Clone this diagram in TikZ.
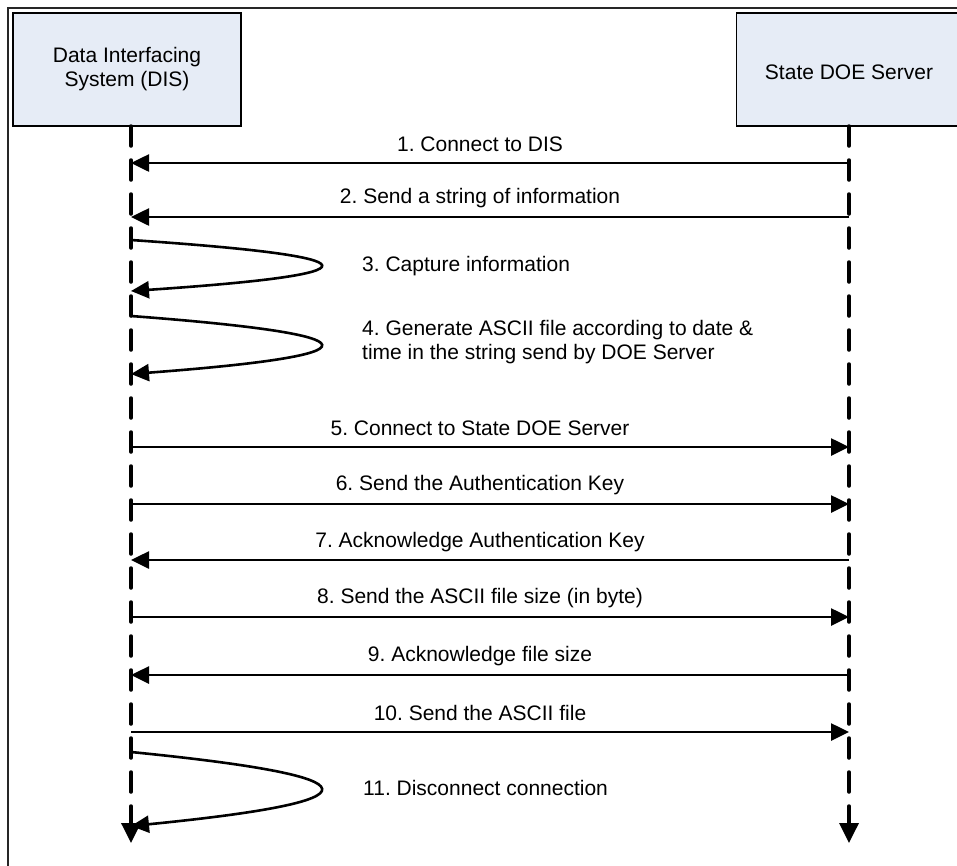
\documentclass[tikz,border=0pt]{standalone}
\usepackage{fontspec}
\setmainfont{Liberation Sans}
\usetikzlibrary{arrows.meta}
\definecolor{boxfill}{RGB}{230,236,246}
\tikzset{
  actor/.style={draw=black, line width=1.3pt, fill=boxfill, inner sep=0pt, align=center, font=\fontsize{21}{24}\selectfont},
  lifeline/.style={line width=3.5pt, dash pattern=on 20pt off 14pt, line cap=round, -{Triangle[length=20pt,width=19pt]}},
  msg/.style={line width=2.6pt, -{Triangle[length=18pt,width=17pt]}},
  selfmsg/.style={line width=2.6pt, -{Triangle[length=18pt,width=17pt]}},
  lbl/.style={font=\fontsize{21}{24}\selectfont, inner sep=0pt, align=left}
}
\begin{document}
\frenchspacing
\begin{tikzpicture}[x=1pt,y=-1pt]
\clip (0,0) rectangle (957,865);
\fill[white] (0,0) rectangle (957,865);
% outer frame
\draw[line width=2pt, black!85] (8,8) rectangle (980,885);
% actors
\node[actor, minimum width=228pt, minimum height=113pt] (dis) at (127,69.5) {Data Interfacing\\System (DIS)};
\node[actor, minimum width=230pt, minimum height=113pt, anchor=west] (doe) at (736,69.5) {};
\node[font=\fontsize{21}{24}\selectfont, inner sep=0pt] (doetxt) at (849,72) {State DOE Server};
% lifeline ends
\coordinate (dtop) at (131,126);
\coordinate (stop) at (849,126);
\coordinate (dend) at (131,843);
\coordinate (send) at (849,843);
\draw[lifeline] (dtop) -- (dend);
\draw[lifeline] (stop) -- (send);
% message points
\foreach \n/\y in {1/163,2/217,5/447,6/504,7/560,8/617,9/675,10/732}{
  \coordinate (d\n) at (131,\y);
  \coordinate (s\n) at (849,\y);
}
\draw[msg] (s1) -- (d1);
\draw[msg] (s2) -- (d2);
\draw[msg] (d5) -- (s5);
\draw[msg] (d6) -- (s6);
\draw[msg] (s7) -- (d7);
\draw[msg] (d8) -- (s8);
\draw[msg] (s9) -- (d9);
\draw[msg] (d10) -- (s10);
% self messages
\coordinate (a3) at (131,240); \coordinate (b3) at (131,291);
\coordinate (a4) at (131,316); \coordinate (b4) at (131,374);
\coordinate (a11) at (131,752); \coordinate (b11) at (131,826);
\draw[selfmsg] (a3) .. controls (383,257) and (383,274) .. (b3);
\draw[selfmsg] (a4) .. controls (383,335) and (383,355) .. (b4);
\draw[selfmsg] (a11) .. controls (383,777) and (383,801) .. (b11);
% labels
\node[lbl] (l1) at (480,144) {1. Connect to DIS};
\node[lbl] (l2) at (480,198) {2. Send a string of information};
\node[lbl, anchor=west] (l3) at (362,266) {3. Capture information};
\node[lbl, anchor=west] (l4) at (362,342) {4. Generate ASCII file according to date \&\\time in the string send by DOE Server};
\node[lbl] (l5) at (480,428) {5. Connect to State DOE Server};
\node[lbl] (l6) at (480,485) {6. Send the Authentication Key};
\node[lbl] (l7) at (480,542) {7. Acknowledge Authentication Key};
\node[lbl] (l8) at (480,598) {8. Send the ASCII file size (in byte)};
\node[lbl] (l9) at (480,656) {9. Acknowledge file size};
\node[lbl] (l10) at (480,713) {10. Send the ASCII file};
\node[lbl, anchor=west] (l11) at (363,788) {11. Disconnect connection};
\end{tikzpicture}
\end{document}
